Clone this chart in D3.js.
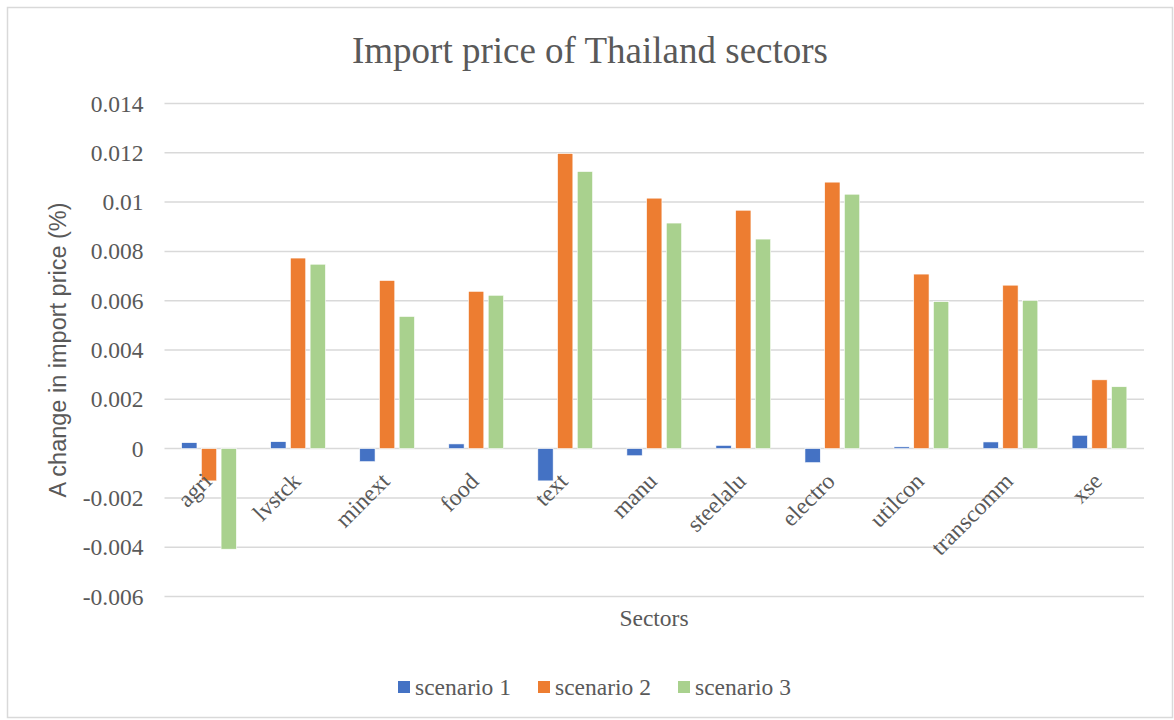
<!DOCTYPE html>
<html>
<head>
<meta charset="utf-8">
<script src="https://cdn.jsdelivr.net/npm/d3@7"></script>
<style>
  body { margin: 0; background: #fff; }
  text { fill: #595959; }
</style>
</head>
<body>
<div id="importChart"></div>
<script>
// data
var sectors = ["agri", "lvstck", "minext", "food", "text", "manu", "steelalu", "electro", "utilcon", "transcomm", "xse"];
var seriesNames = ["scenario 1", "scenario 2", "scenario 3"];
var scenario1 = [0.00024, 0.00028, -0.00053, 0.00019, -0.00131, -0.00029, 0.00013, -0.00057, 0.00007, 0.00027, 0.00054];
var scenario2 = [-0.00131, 0.00773, 0.00682, 0.00638, 0.01197, 0.01016, 0.00967, 0.01081, 0.00708, 0.00663, 0.00279];
var scenario3 = [-0.00408, 0.00748, 0.00536, 0.00622, 0.01124, 0.00915, 0.00850, 0.01032, 0.00596, 0.00601, 0.00251];
var yTicks = [-0.006, -0.004, -0.002, 0, 0.002, 0.004, 0.006, 0.008, 0.01, 0.012, 0.014];
var colours = ["#4472C4", "#ED7D31", "#A9D18E"];

var serif = "'Liberation Serif', 'Times New Roman', serif";
var sans = "'Liberation Sans', Arial, sans-serif";

// set the dimensions and margins of the graph
var setWidth = 1174;
var setHeight = 720;
var margin = {top: 103.5, right: 30, bottom: 123.5, left: 164.5};
var width = setWidth - margin.left - margin.right;
var height = setHeight - margin.top - margin.bottom;

var root = d3.select("#importChart")
    .append("svg")
    .attr("width", setWidth)
    .attr("height", setHeight);

// outer frame
root.append("rect")
    .attr("x", 7.5)
    .attr("y", 7.5)
    .attr("width", 1165)
    .attr("height", 710)
    .attr("fill", "#fff")
    .attr("stroke", "#d9d9d9")
    .attr("stroke-width", 1.5);

var svg = root.append("g")
    .attr("transform", "translate(" + margin.left + "," + margin.top + ")");

// scales
var x0 = d3.scaleBand()
    .domain(sectors)
    .range([0, width]);

var x1 = d3.scaleBand()
    .domain(seriesNames)
    .range([0, x0.bandwidth()])
    .paddingInner(0.223)
    .paddingOuter(0.87);

var y = d3.scaleLinear()
    .domain([-0.006, 0.014])
    .range([height, 0]);

// gridlines
svg.append("g")
    .selectAll("line")
    .data(yTicks)
    .join("line")
        .attr("x1", 0)
        .attr("x2", width)
        .attr("y1", function (d) { return y(d); })
        .attr("y2", function (d) { return y(d); })
        .attr("stroke", "#d9d9d9")
        .attr("stroke-width", 1.5);

// y Axis labels (plain hyphen for negatives, like the original)
var yAxis = svg.append("g")
    .attr("font-family", serif)
    .attr("font-size", 23.5)
    .call(d3.axisLeft(y).tickValues(yTicks).tickSize(0).tickPadding(21)
        .tickFormat(function (d) { return String(+d.toFixed(3)); }));
yAxis.select(".domain").remove();
yAxis.selectAll("text")
    .style("font-family", serif)
    .style("font-size", "23.5px")
    .attr("fill", "#595959");

// bars
var table = sectors.map(function (s, i) {
    return {sector: s, values: [scenario1[i], scenario2[i], scenario3[i]]};
});

svg.append("g")
    .selectAll("g")
    .data(table)
    .join("g")
        .attr("transform", function (d) { return "translate(" + x0(d.sector) + ",0)"; })
    .selectAll("rect")
    .data(function (d) { return d.values.map(function (v, k) { return {name: seriesNames[k], value: v, k: k}; }); })
    .join("rect")
        .attr("x", function (d) { return x1(d.name); })
        .attr("width", x1.bandwidth())
        .attr("y", function (d) { return y(Math.max(0, d.value)); })
        .attr("height", function (d) { return Math.abs(y(d.value) - y(0)); })
        .attr("fill", function (d) { return colours[d.k]; })
        .attr("stroke", "#fff")
        .attr("stroke-width", 0.6);

// category labels, rotated
svg.append("g")
    .selectAll("text")
    .data(sectors)
    .join("text")
        .attr("text-anchor", "end")
        .attr("transform", function (d) {
            return "translate(" + (x0(d) + x0.bandwidth() / 2 + 4) + "," + (y(0) + 34) + ") rotate(-45)";
        })
        .style("font-family", serif)
        .style("font-size", "23.5px")
        .text(function (d) { return d; });

// title
root.append("text")
    .attr("x", 590)
    .attr("y", 63)
    .attr("text-anchor", "middle")
    .style("font-family", serif)
    .style("font-size", "37px")
    .text("Import price of Thailand sectors");

// x axis label
root.append("text")
    .attr("x", 654)
    .attr("y", 626)
    .attr("text-anchor", "middle")
    .style("font-family", serif)
    .style("font-size", "23.5px")
    .text("Sectors");

// y axis label
root.append("text")
    .attr("transform", "translate(66," + (margin.top + height / 2) + ") rotate(-90)")
    .attr("text-anchor", "middle")
    .style("font-family", sans)
    .style("font-size", "23.5px")
    .text("A change in import price (%)");

// legend
var legendX = [398, 538, 678];
var legend = root.append("g")
    .selectAll("g")
    .data(seriesNames)
    .join("g")
        .attr("transform", function (d, i) { return "translate(" + legendX[i] + ",681)"; });

legend.append("rect")
    .attr("width", 12)
    .attr("height", 12)
    .attr("fill", function (d, i) { return colours[i]; });

legend.append("text")
    .attr("x", 17)
    .attr("y", 14)
    .style("font-family", serif)
    .style("font-size", "23.5px")
    .text(function (d) { return d; });
</script>
</body>
</html>
